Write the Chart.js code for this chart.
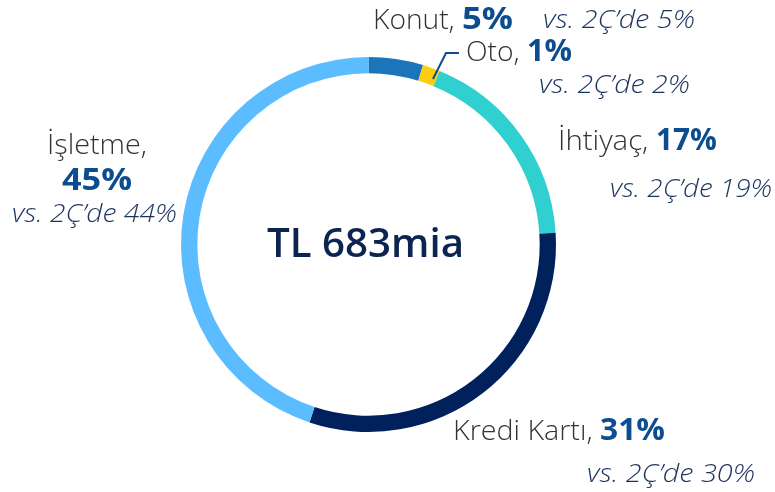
<!DOCTYPE html>
<html><head><meta charset="utf-8">
<script src="https://cdn.jsdelivr.net/npm/chart.js@4"></script>
<style>html,body{margin:0;padding:0;background:#fff;}canvas{display:block;}</style>
</head><body>
<canvas id="c" width="775" height="492"></canvas>
<script>
const categories = ["Konut", "Oto", "İhtiyaç", "Kredi Kartı", "İşletme"];
const shares = [4.7, 1.5, 17.8, 31.1, 44.9];
const shareLabels = ["5%", "1%", "17%", "31%", "45%"];
const prevLabels = ["vs. 2Ç’de 5%", "vs. 2Ç’de 2%", "vs. 2Ç’de 19%", "vs. 2Ç’de 30%", "vs. 2Ç’de 44%"];
const colors = ["#1b75bb", "#fccd12", "#2fd0cf", "#00215c", "#5bbdff"];
const centerText = "TL 683mia";

const F = "'Open Sans'";
const GRAY = "#333333", BLUE = "#0b4d8f", NAVY = "#1b335f";
const NAME_FONT = "300 27px " + F, PCT_FONT = "700 30px " + F, VS_FONT = "italic 300 25px " + F;

// label placement (x0 = start of name, x1 = start of pct, x2 = end of pct, y = baseline; vs: v0..v1 at vy)
const place = [
  { x0: 373, x1: 462, x2: 513, y: 29, v0: 543, v1: 695, vy: 28 },
  { x0: 466, x1: 527, x2: 572, y: 61, v0: 539, v1: 690, vy: 93 },
  { x0: 558, x1: 656, x2: 717, y: 150, v0: 610, v1: 772, vy: 197 },
  { x0: 453, x1: 600, x2: 665, y: 440, v0: 587, v1: 755, vy: 482 }
];

function fit(ctx, text, x0, x1, y, font, color) {
  ctx.font = font; ctx.fillStyle = color; ctx.textAlign = "left"; ctx.textBaseline = "alphabetic";
  const w = ctx.measureText(text).width;
  const s = (x1 - x0) / w;
  ctx.save(); ctx.translate(x0, y); ctx.scale(s, 1); ctx.fillText(text, 0, 0); ctx.restore();
}

const labelsPlugin = {
  id: "labels",
  afterDraw(chart) {
    const ctx = chart.ctx;
    ctx.save();
    for (let i = 0; i < 4; i++) {
      const p = place[i];
      fit(ctx, categories[i] + ", ", p.x0, p.x1, p.y, NAME_FONT, GRAY);
      fit(ctx, shareLabels[i], p.x1, p.x2, p.y, PCT_FONT, BLUE);
      fit(ctx, prevLabels[i], p.v0, p.v1, p.vy, VS_FONT, NAVY);
    }
    // İşletme (stacked)
    fit(ctx, categories[4] + ",", 47, 147, 154, NAME_FONT, GRAY);
    fit(ctx, shareLabels[4], 62, 132, 190, "700 31px " + F, BLUE);
    fit(ctx, prevLabels[4], 12, 177, 222, VS_FONT, NAVY);
    // leader line for Oto
    ctx.strokeStyle = "#0b4d8f"; ctx.lineWidth = 2;
    ctx.beginPath(); ctx.moveTo(433, 79); ctx.lineTo(446, 53); ctx.lineTo(459, 53); ctx.stroke();
    // center
    fit(ctx, centerText, 267, 464, 257, "600 40px " + F, "#0c2550");
    ctx.restore();
  }
};

new Chart(document.getElementById("c"), {
  type: "doughnut",
  data: { labels: categories, datasets: [{ data: shares, backgroundColor: colors, borderWidth: 0 }] },
  options: {
    responsive: false, animation: false,
    cutout: "91.3%",
    layout: { padding: { left: 181, right: 219, top: 57, bottom: 60 } },
    plugins: { legend: { display: false }, tooltip: { enabled: false } }
  },
  plugins: [labelsPlugin]
});
</script>
</body></html>
